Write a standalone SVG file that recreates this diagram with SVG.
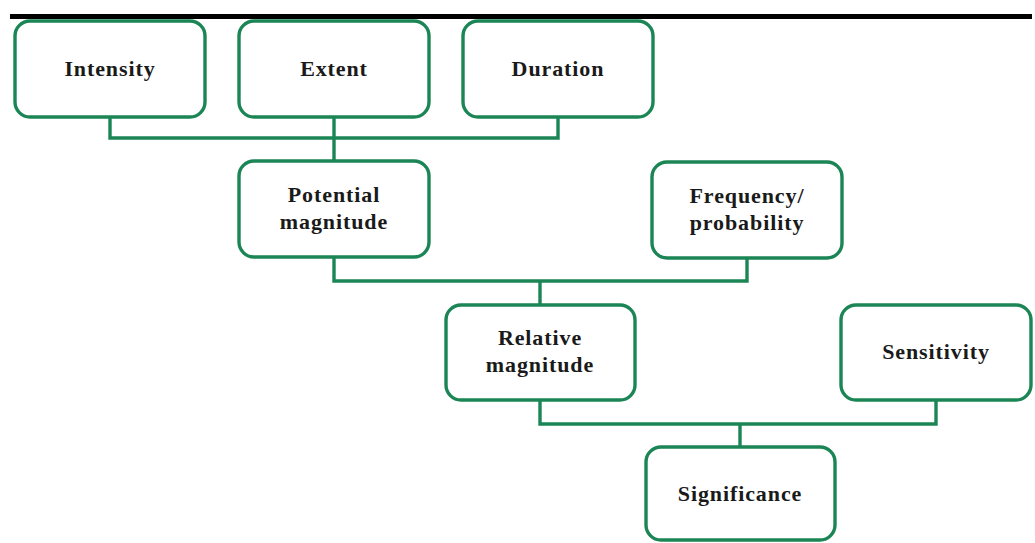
<svg xmlns="http://www.w3.org/2000/svg" width="1035" height="543" viewBox="0 0 1035 543">
<style>
.box{fill:#fff;stroke:#1b8556;stroke-width:3.4}
.con{fill:none;stroke:#1b8556;stroke-width:3.4}
text{font-family:"Liberation Serif","Times New Roman",serif;font-weight:bold;font-size:22px;fill:#1a1a1a;text-anchor:middle;letter-spacing:0.9px}
</style>
<rect x="0" y="0" width="1035" height="543" fill="#fff"/>
<rect x="10" y="14" width="1022" height="5" fill="#000"/>
<g id="connectors">
<path class="con" d="M110 117V138H558V117M334 117V160"/>
<path class="con" d="M334 258V281H747V258M540 281V305"/>
<path class="con" d="M540 400V424H936V400M740 424V447"/>
</g>
<g id="intensity"><rect class="box" x="15" y="21" width="190" height="96" rx="15"/><text x="110" y="76">Intensity</text></g>
<g id="extent"><rect class="box" x="239" y="21" width="190" height="96" rx="15"/><text x="334" y="76">Extent</text></g>
<g id="duration"><rect class="box" x="463" y="21" width="190" height="96" rx="15"/><text x="558" y="76">Duration</text></g>
<g id="potential"><rect class="box" x="239" y="161" width="190" height="96" rx="15"/><text x="334" y="202">Potential</text><text x="334" y="229">magnitude</text></g>
<g id="frequency"><rect class="box" x="652" y="162" width="190" height="96" rx="15"/><text x="747" y="203">Frequency/</text><text x="747" y="230">probability</text></g>
<g id="relative"><rect class="box" x="446" y="305" width="189" height="95" rx="15"/><text x="540" y="345">Relative</text><text x="540" y="372">magnitude</text></g>
<g id="sensitivity"><rect class="box" x="841" y="305" width="190" height="95" rx="15"/><text x="936" y="359">Sensitivity</text></g>
<g id="significance"><rect class="box" x="646" y="447" width="189" height="93" rx="15"/><text x="740" y="501">Significance</text></g>
</svg>
